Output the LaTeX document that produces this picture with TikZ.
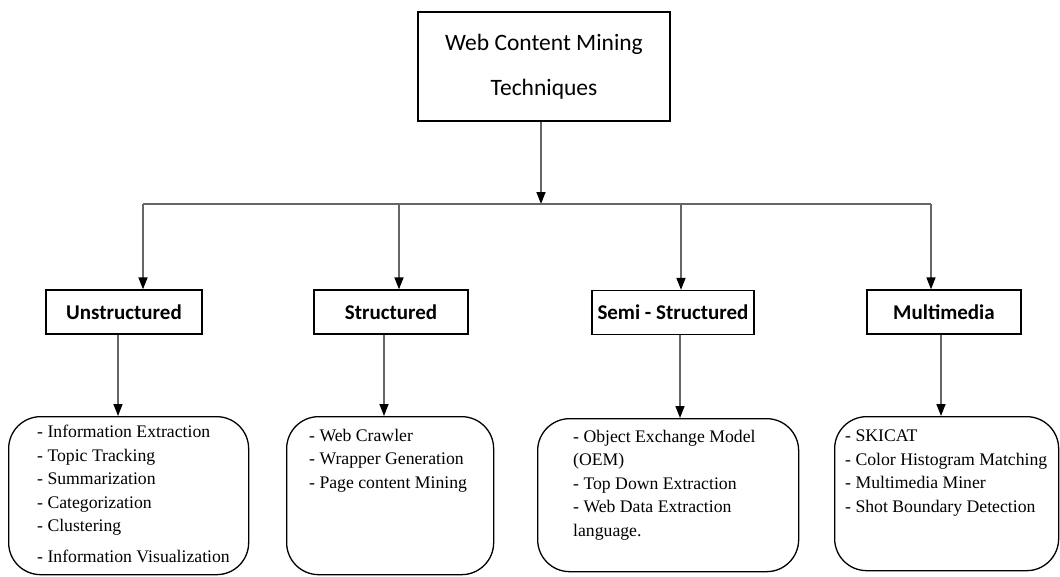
\documentclass[tikz,border=0pt]{standalone}
\usepackage{fontspec}
\setmainfont{Liberation Serif}
\newfontfamily\calibri{Carlito}
\usetikzlibrary{positioning}
\usetikzlibrary{arrows.meta}
\tikzset{
        boxnode/.style={align=center, inner sep=0pt},
        % Root node
        node_root/.style={boxnode, rectangle, draw=black, line width=1.3pt, minimum width=252pt, minimum height=109pt, font=\calibri\fontsize{23.5}{45}\selectfont},
        % Category nodes
        node_header/.style={boxnode, rectangle, draw=black, line width=1.3pt, minimum height=44pt, font=\calibri\bfseries\fontsize{21}{25}\selectfont},
        % Technique boxes
        node_list/.style={boxnode, rectangle, rounded corners=32pt, draw=black, line width=1.3pt, anchor=north west},
        % Technique texts
        node_text/.style={inner sep=0pt, align=left, anchor=north west, font=\fontsize{17.7}{23.5}\selectfont},
        % Connectors
        edge_line/.style={draw=black!60, line width=1.5pt},
        edge_arrow/.style={edge_line, -{Triangle[length=12pt, width=9pt, color=black]}}
}
\begin{document}
\begin{tikzpicture}[x=1pt, y=-1pt]
    \useasboundingbox (0,0) rectangle (1060,576);

    \node[node_root] (root) at (544,66.5) {Web Content Mining\\Techniques};

    \node[node_header, minimum width=156pt] (unstructured) at (124,312) {Unstructured};
    \node[node_header, minimum width=154pt] (structured) at (391,312) {Structured};
    \node[node_header, minimum width=162pt] (semi) at (673,312.5) {Semi - Structured};
    \node[node_header, minimum width=154pt] (multimedia) at (944,312) {Multimedia};

    \node[node_list, minimum width=240pt, minimum height=158pt] (unstructured_list) at (8,416) {};
    \node[node_list, minimum width=207pt, minimum height=158pt] (structured_list) at (286,416) {};
    \node[node_list, minimum width=261pt, minimum height=153pt] (semi_list) at (537,418) {};
    \node[node_list, minimum width=224pt, minimum height=154pt] (multimedia_list) at (834,416) {};

    \node[node_text] (unstructured_text) at (37,425) {- Information Extraction\\- Topic Tracking\\- Summarization\\- Categorization\\- Clustering\\[7pt]- Information Visualization};
    \node[node_text] (structured_text) at (309,429) {- Web Crawler\\- Wrapper Generation\\- Page content Mining};
    \node[node_text] (semi_text) at (573,430) {- Object Exchange Model\\(OEM)\\- Top Down Extraction\\- Web Data Extraction\\language.};
    \node[node_text] (multimedia_text) at (845,430) {- SKICAT\\- Color Histogram Matching\\- Multimedia Miner\\- Shot Boundary Detection};

    % bus between root and categories
    \coordinate (bus) at (541,204);
    \coordinate (bus_a) at (143,204);
    \coordinate (bus_b) at (399,204);
    \coordinate (bus_c) at (681,204);
    \coordinate (bus_d) at (931,204);

    \draw[edge_arrow] (root.south -| bus) -- (bus);
    \draw[edge_line] (bus_a) -- (bus_d);
    \draw[edge_arrow] (bus_a) -- (bus_a |- unstructured.north);
    \draw[edge_arrow] (bus_b) -- (bus_b |- structured.north);
    \draw[edge_arrow] (bus_c) -- (bus_c |- semi.north);
    \draw[edge_arrow] (bus_d) -- (bus_d |- multimedia.north);

    \draw[edge_arrow] ([xshift=-6pt]unstructured.south) -- ([xshift=-6pt]unstructured.south |- unstructured_list.north);
    \draw[edge_arrow] ([xshift=-7pt]structured.south) -- ([xshift=-7pt]structured.south |- structured_list.north);
    \draw[edge_arrow] ([xshift=7pt]semi.south) -- ([xshift=7pt]semi.south |- semi_list.north);
    \draw[edge_arrow] ([xshift=-3pt]multimedia.south) -- ([xshift=-3pt]multimedia.south |- multimedia_list.north);
\end{tikzpicture}
\end{document}
